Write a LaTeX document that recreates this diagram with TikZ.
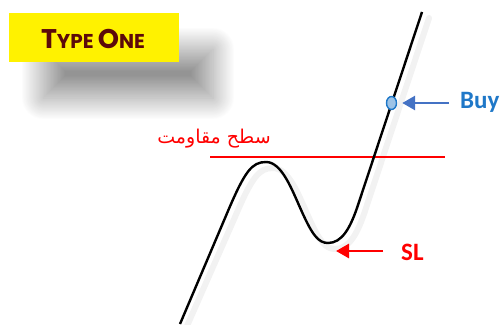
\documentclass[tikz,border=0pt]{standalone}
\usepackage{fontspec}
\setmainfont{Carlito}
\newfontfamily\arabicfont[Script=Arabic]{DejaVu Sans}
\newfontfamily\titlefont{Poppins}
\TeXXeTstate=1
\usetikzlibrary{shadows.blur,arrows.meta,shapes.geometric}
\definecolor{titlered}{HTML}{5C0A0A}
\definecolor{buyblue}{HTML}{1F78C8}
\definecolor{arrblue}{HTML}{4472C4}
\definecolor{dotfill}{HTML}{9DC3E6}
\tikzset{
  titlebox/.style={fill=yellow, minimum width=170pt, minimum height=49pt, inner sep=0pt,
    blur shadow={shadow xshift=34pt, shadow yshift=-36pt, shadow blur radius=22pt, shadow opacity=42, shadow blur steps=60}},
  curve/.style={line width=2.4pt, black},
  ptr/.style={line width=2.8pt, -{Triangle[length=13pt,width=14pt]}},
  lbl/.style={font=\fontsize{25}{25}\selectfont\bfseries, inner sep=0pt}
}
\begin{document}
\begin{tikzpicture}[x=1pt,y=-1pt]
\useasboundingbox (0,0) rectangle (502,324);
% title
\node[titlebox] (title) at (94,37.5) {};
\node[text=titlered, inner sep=0pt] (tt) at (93,39) {\titlefont\bfseries\fontsize{27}{27}\selectfont T\fontsize{20}{20}\selectfont YPE \fontsize{27}{27}\selectfont O\fontsize{20}{20}\selectfont NE};
% curve shadow
\draw[line width=6pt, black, opacity=0.05, line cap=round]
  (187,326) -- (235,217) .. controls (252,177) and (259,168) .. (273,168)
  .. controls (289,168) and (299,196) .. (309,218)
  .. controls (319,240) and (325,249) .. (335,249)
  .. controls (349,249) and (357,234) .. (364,214) -- (429,18);
% resistance line
\coordinate (rl) at (210,157);
\coordinate (rr) at (445,157);
\draw[red, line width=2.2pt] (rl) -- (rr);
\node[text=red, inner sep=0pt] (res) at (214,139) {\arabicfont\fontsize{19}{19}\selectfont\beginR سطح مقاومت\endR};
% price curve
\coordinate (c0) at (180,324);
\coordinate (peak) at (266,162);
\coordinate (trough) at (328,243);
\coordinate (c9) at (422,12);
\draw[curve] (c0) -- (228,211) .. controls (245,171) and (252,162) .. (peak)
  .. controls (282,162) and (292,190) .. (302,212)
  .. controls (312,234) and (318,243) .. (trough)
  .. controls (342,243) and (350,228) .. (357,208) -- (c9);
% buy dot
\node[draw=buyblue, fill=dotfill, line width=1.4pt, ellipse, minimum width=10pt, minimum height=13pt, inner sep=0pt] (dot) at (391.5,103) {};
\node[lbl, text=buyblue, anchor=west] (buy) at (460,102) {Buy};
\coordinate (bs) at (449,103);
\draw[ptr, arrblue, shorten >=5pt] (bs) -- (dot.east);
% SL
\node[lbl, text=red, anchor=west] (sl) at (401,252) {SL};
\coordinate (ss) at (383,251);
\coordinate (se) at (336,251);
\draw[ptr, red] (ss) -- (se);
\end{tikzpicture}
\end{document}
